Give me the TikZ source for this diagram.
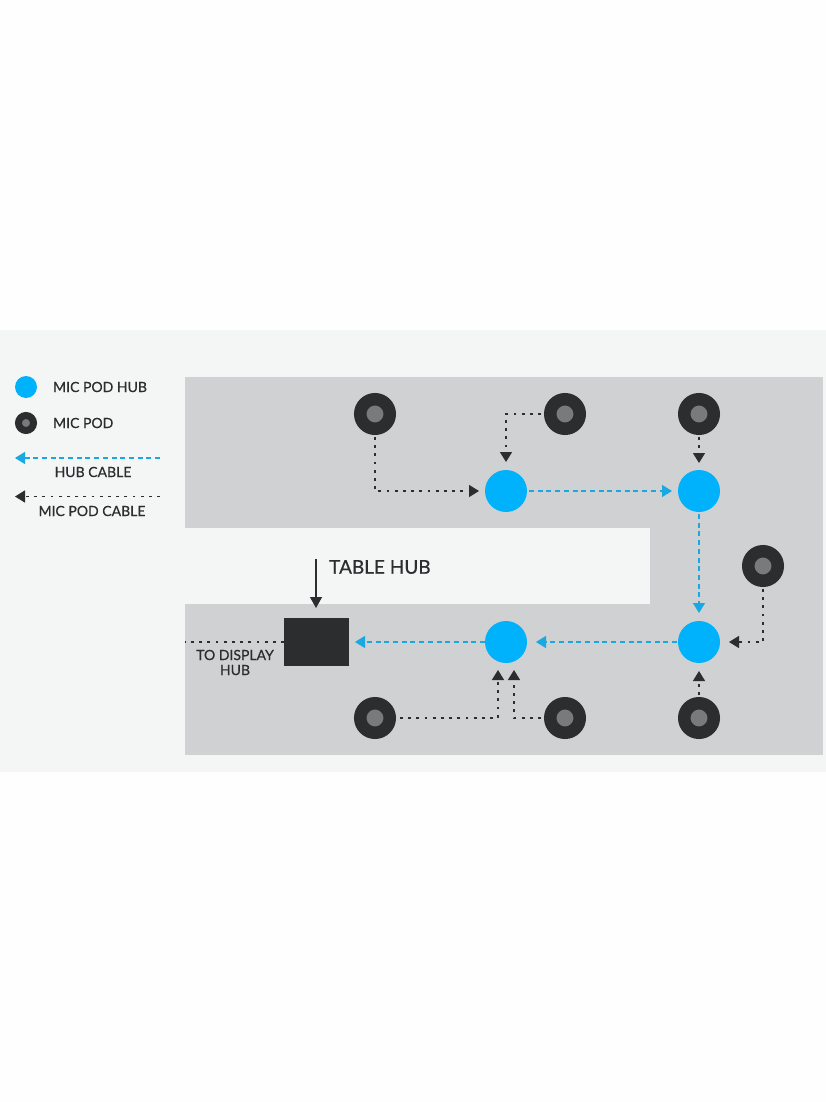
\documentclass[tikz,border=0pt]{standalone}
\usepackage{fontspec}
\setmainfont[FakeBold=0.5]{Lato}
\usetikzlibrary{arrows.meta}

\definecolor{pagecol}{HTML}{FEFEFE}
\definecolor{bandcol}{HTML}{F4F5F5}
\definecolor{floorcol}{HTML}{CFD1D2}
\definecolor{hubcol}{HTML}{00B1FB}
\definecolor{podcol}{HTML}{2B2D2E}
\definecolor{podcore}{HTML}{787A7B}
\definecolor{cablecol}{HTML}{19A9E2}

\tikzset{
  hubnode/.style={circle,fill=hubcol,minimum size=42pt,inner sep=0pt,outer sep=0pt},
  podnode/.style={circle,draw=podcol,fill=podcore,line width=12.5pt,minimum size=29.5pt,inner sep=0pt},
  hubcable/.style={draw=cablecol,line width=1.3pt,dash pattern=on 5pt off 3.7pt,-{Triangle[length=10pt,width=12pt,fill=cablecol]}},
  podcable/.style={draw=podcol,line width=1.5pt,dash pattern=on 2.8pt off 5.4pt,-{Triangle[length=10pt,width=12pt,fill=podcol]}},
  lbl/.style={text=podcol,font=\fontsize{14}{16}\selectfont,inner sep=0pt},
}

\begin{document}
\begin{tikzpicture}[x=1pt,y=-1pt]
  \useasboundingbox (0,0) rectangle (826,1102);
  \fill[pagecol] (0,0) rectangle (826,1102);
  \fill[bandcol] (0,330) rectangle (826,772);
  \fill[floorcol] (185,377) rectangle (823,755);
  \fill[bandcol] (185,528) rectangle (650,604);

  % legend
  \node[hubnode,minimum size=22pt] (leghub) at (26,387) {};
  \node[podnode,minimum size=15pt,line width=7pt] (legpod) at (26,423) {};
  \node[lbl,anchor=west] (leghubtxt) at (53,387) {MIC POD HUB};
  \node[lbl,anchor=west] (legpodtxt) at (53,423) {MIC POD};
  \coordinate (leghubA) at (160,458);
  \coordinate (leghubB) at (15,458);
  \coordinate (legpodA) at (160,496.5);
  \coordinate (legpodB) at (15,496.5);
  \draw[hubcable] (leghubA) -- (leghubB);
  \draw[podcable] (legpodA) -- (legpodB);
  \node[lbl] (legcabtxt) at (93,472) {HUB CABLE};
  \node[lbl] (legpcabtxt) at (92,511) {MIC POD CABLE};

  % hubs
  \node[hubnode] (hubA) at (506,491) {};
  \node[hubnode] (hubB) at (699,491) {};
  \node[hubnode] (hubC) at (699,642) {};
  \node[hubnode] (hubD) at (506,642) {};

  % pods
  \node[podnode] (podA) at (375,414) {};
  \node[podnode] (podB) at (565,414) {};
  \node[podnode] (podC) at (699,414) {};
  \node[podnode] (podD) at (763,566) {};
  \node[podnode] (podE) at (375,718) {};
  \node[podnode] (podF) at (565,718) {};
  \node[podnode] (podG) at (699,718) {};

  % table hub
  \node[rectangle,fill=podcol,minimum width=65pt,minimum height=48pt,inner sep=0pt,outer sep=0pt] (tablehub) at (316.5,641.5) {};
  \node[lbl,anchor=west,font=\fontsize{19}{22}\selectfont] (tabletxt) at (329,567) {TABLE HUB};
  \coordinate (tabletop) at (316,559);
  \draw[draw=podcol,line width=1.3pt,-{Triangle[length=11pt,width=12pt,fill=podcol]},shorten >=9.5pt] (tabletop) -- (tablehub.north -| tabletop);
  \coordinate (displayend) at (185,642);
  \draw[draw=podcol,line width=1.5pt,dash pattern=on 2.8pt off 5.4pt] (tablehub.west |- displayend) -- (displayend);
  \node[lbl,align=center,font=\fontsize{14}{15}\selectfont] (displaytxt) at (235,662.5) {TO DISPLAY\\HUB};

  % hub cables
  \draw[hubcable,shorten <=2pt,shorten >=6pt] (hubA) -- (hubB);
  \draw[hubcable,shorten <=2pt,shorten >=8pt] (hubB) -- (hubC);
  \draw[hubcable,shorten <=1pt,shorten >=9pt] (hubC) -- (hubD);
  \draw[hubcable,shorten >=6pt] (hubD) -- (tablehub.east |- hubD);

  % pod cables
  \coordinate (hubDinL) at (498,670);
  \coordinate (hubDinR) at (514,670);
  \draw[podcable,shorten <=2pt,shorten >=6pt] (podA.south) |- (hubA.west);
  \draw[podcable,shorten <=3pt,shorten >=8pt] (podB.west) -| (hubA.north);
  \draw[podcable,shorten <=2pt,shorten >=7pt] (podC) -- (hubB);
  \draw[podcable,shorten <=2pt,shorten >=9pt] (podD.south) |- (hubC.east);
  \draw[podcable,shorten <=2pt,shorten >=8pt] (podG) -- (hubC);
  \draw[podcable,shorten <=4pt] (podE.east) -| (hubDinL);
  \draw[podcable,shorten <=3pt] (podF.west) -| (hubDinR);
\end{tikzpicture}
\end{document}
